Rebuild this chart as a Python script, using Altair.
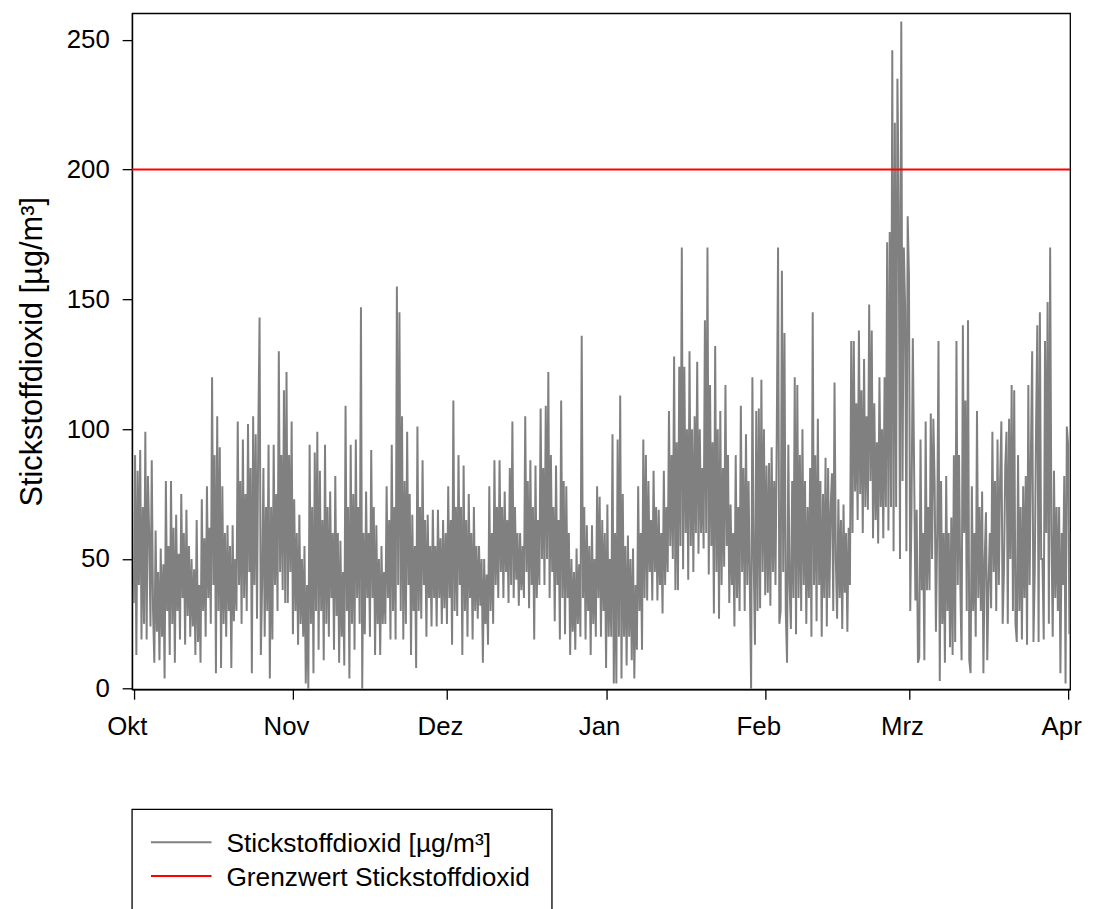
import altair as alt
import pandas as pd

# ---------------- data (4 values per day, 6-hourly) ----------------
START = "2018-10-01 00:00"
STEP = "6h"
MONATE = ["Jan", "Feb", "Mrz", "Apr", "Mai", "Jun", "Jul", "Aug", "Sep", "Okt", "Nov", "Dez"]
TICK_MONTHS = [(2018, 10), (2018, 11), (2018, 12), (2019, 1), (2019, 2), (2019, 3), (2019, 4)]
Y_TICKS = [0, 50, 100, 150, 200, 250]
GRENZWERT = [200]
LEGEND_LABELS = ["Stickstoffdioxid [µg/m³]", "Grenzwert Stickstoffdioxid"]

okt = [
    33, 90, 13, 84, 40, 92, 19, 70, 25, 99, 19, 82, 60, 24, 88, 30, 10, 61, 22, 45,
    11, 54, 20, 48, 4, 80, 30, 55, 13, 80, 25, 62, 10, 67, 30, 52, 19, 75, 35, 60,
    17, 69, 28, 55, 20, 50, 24, 46, 13, 65, 18, 40, 10, 73, 30, 58, 20, 78, 35, 62,
    25, 120, 40, 90, 6, 105, 30, 93, 8, 78, 25, 60, 20, 63, 30, 55, 8, 63, 26, 50,
    30, 103, 40, 80, 25, 96, 35, 75, 30, 102, 45, 85, 6, 105, 40, 98, 27, 98, 143, 13,
    40, 85, 20, 70, 30, 94, 4, 70, 19, 94, 40, 75, 30, 130, 45, 90, 38, 115, 33, 122,
    33, 90, 45, 103,
]
nov = [
    21, 73, 30, 60, 17, 67, 25, 50, 20, 55, 2, 40, 0, 94, 25, 70, 6, 91, 30, 99,
    15, 84, 30, 65, 11, 94, 25, 70, 20, 76, 35, 60, 15, 82, 28, 60, 10, 57, 20, 45,
    9, 109, 30, 70, 4, 94, 25, 75, 15, 96, 35, 70, 25, 147, 0, 60, 21, 76, 35, 60,
    20, 92, 35, 70, 13, 63, 25, 50, 13, 55, 25, 45, 25, 78, 35, 65, 19, 94, 30, 70,
    19, 155, 40, 145, 30, 105, 19, 80, 25, 99, 40, 75, 13, 67, 30, 55, 8, 101, 30, 70,
    27, 88, 40, 65, 20, 67, 35, 55, 24, 69, 35, 55, 24, 69, 35, 58, 25, 65, 31, 60,
]
dez = [
    25, 78, 35, 65, 17, 111, 30, 70, 28, 90, 40, 70, 13, 86, 30, 65, 20, 75, 35, 60,
    19, 70, 30, 55, 27, 55, 32, 50, 10, 50, 25, 44, 17, 78, 30, 60, 25, 88, 40, 70,
    35, 88, 45, 70, 35, 76, 45, 65, 33, 85, 40, 103, 35, 70, 42, 60, 32, 60, 38, 55,
    35, 105, 45, 80, 31, 88, 40, 70, 19, 86, 35, 65, 40, 108, 50, 85, 40, 109, 50, 122,
    35, 90, 45, 70, 26, 86, 40, 65, 19, 111, 35, 80, 21, 78, 35, 60, 13, 50, 22, 45,
    15, 54, 25, 48, 20, 136, 35, 70, 19, 63, 30, 55, 13, 63, 25, 50, 20, 78, 35, 74,
    20, 65, 30, 60,
]
jan = [
    8, 71, 20, 50, 20, 98, 2, 60, 2, 96, 20, 113, 4, 75, 20, 55, 9, 59, 20, 50,
    11, 54, 4, 40, 15, 78, 30, 60, 15, 96, 35, 90, 34, 80, 45, 65, 34, 84, 45, 70,
    34, 69, 40, 60, 29, 84, 40, 70, 45, 107, 55, 90, 50, 128, 38, 95, 38, 124, 55, 170,
    46, 124, 60, 100, 42, 130, 55, 100, 45, 105, 60, 126, 52, 100, 60, 85, 54, 142, 60, 170,
    44, 117, 55, 95, 29, 132, 45, 100, 27, 107, 40, 85, 47, 117, 55, 90, 33, 71, 40, 60,
    24, 90, 35, 70, 30, 109, 45, 85, 30, 98, 40, 80, 40, 0, 120, 50, 17, 107, 30, 108,
    31, 119, 45, 100,
]
feb = [
    36, 86, 37, 87, 32, 93, 45, 80, 40, 99, 170, 25, 30, 161, 45, 137, 30, 10, 94, 40,
    23, 80, 35, 120, 21, 117, 35, 90, 30, 100, 40, 80, 25, 70, 35, 85, 20, 145, 40, 90,
    26, 104, 40, 80, 20, 75, 35, 89, 24, 85, 35, 70, 83, 30, 118, 50, 27, 73, 35, 65,
    23, 71, 37, 60, 22, 62, 40, 134, 60, 134, 76, 110, 65, 138, 75, 115, 60, 127, 70, 105,
    69, 148, 80, 138, 58, 110, 65, 95, 56, 120, 70, 100, 58, 120, 70, 172, 61, 176, 70, 246,
    53, 218, 70, 235, 187, 50, 257, 80, 170, 147, 53, 182,
]
mrz = [
    159, 30, 70, 135, 85, 34, 69, 10, 12, 96, 38, 60, 11, 103, 38, 70, 38, 106, 50, 104,
    79, 22, 60, 134, 3, 80, 25, 60, 10, 82, 30, 60, 16, 66, 13, 90, 18, 134, 40, 90,
    40, 11, 140, 60, 111, 30, 142, 11, 6, 78, 30, 60, 20, 107, 35, 70, 30, 76, 6, 50,
    68, 11, 40, 60, 31, 99, 45, 80, 30, 96, 40, 80, 103, 25, 45, 85, 99, 25, 104, 50,
    117, 30, 115, 25, 18, 90, 30, 70, 19, 78, 35, 82, 17, 117, 40, 90, 130, 18, 45, 100,
    140, 18, 145, 50, 50, 19, 134, 60, 149, 25, 170, 60, 20, 84, 35, 70, 30, 70, 6, 60,
    40, 82, 2, 101,
]
apr = [94, 21, 60]

werte = okt + nov + dez + jan + feb + mrz + apr
zeiten = pd.date_range(START, periods=len(werte), freq=STEP).strftime("%Y-%m-%dT%H:%M:%S")
df = pd.DataFrame({"zeit": list(zeiten), "wert": werte})

# ---------------- chart ----------------
FONT = "Liberation Sans"
W, H = 945, 681

x_scale = alt.Scale(
    domain=[alt.DateTime(year=2018, month=9, date=30, hours=16),
            alt.DateTime(year=2019, month=4, date=1, hours=9, minutes=20)],
    nice=False,
)
y_scale = alt.Scale(domain=[-0.2, 260.2], nice=False, zero=False)

month_expr = "[" + ",".join("'%s'" % m for m in MONATE) + "][month(datum.value)]"

x_axis = alt.Axis(
    values=[alt.DateTime(year=y, month=m, date=1) for (y, m) in TICK_MONTHS],
    labelExpr=month_expr, title=None, labelFlush=False, labelOverlap=False,
    labelOffset=-7, labelPadding=35.7, labelBaseline="alphabetic", tickSize=10,
    labelFontSize=26, grid=False,
)
y_axis = alt.Axis(
    values=Y_TICKS, title=LEGEND_LABELS[0], titleFontSize=31, titleFontWeight="normal",
    titleAngle=270, titleX=-91, titleY=340.5, titleAlign="center", titleBaseline="alphabetic",
    labelPadding=13, tickSize=10, labelFontSize=26, grid=False,
)

line = alt.Chart(df).mark_line(color="#808080", strokeWidth=2, clip=True).encode(
    x=alt.X("zeit:T", scale=x_scale, axis=x_axis),
    y=alt.Y("wert:Q", scale=y_scale, axis=y_axis),
)
rule = alt.Chart(pd.DataFrame({"g": GRENZWERT})).mark_rule(color="#FF0000", strokeWidth=2).encode(
    y=alt.Y("g:Q", scale=y_scale, axis=y_axis),
)

one = pd.DataFrame({"t": [LEGEND_LABELS[0]]})
two = pd.DataFrame({"t": [LEGEND_LABELS[1]]})

box = alt.Chart(one).mark_rect(fill="white", fillOpacity=0, stroke="black", strokeWidth=1.3).encode(
    x=alt.value(0), x2=alt.value(423), y=alt.value(802), y2=alt.value(960)
)
leg_line1 = alt.Chart(one).mark_rule(color="#808080", strokeWidth=2).encode(
    x=alt.value(19), x2=alt.value(80), y=alt.value(835)
)
leg_line2 = alt.Chart(two).mark_rule(color="#FF0000", strokeWidth=2).encode(
    x=alt.value(19), x2=alt.value(80), y=alt.value(869)
)
leg_txt1 = alt.Chart(one).mark_text(align="left", baseline="alphabetic", fontSize=26.5,
                                    font=FONT, color="black").encode(
    x=alt.value(95), y=alt.value(845), text="t:N"
)
leg_txt2 = alt.Chart(two).mark_text(align="left", baseline="alphabetic", fontSize=26.5,
                                    font=FONT, color="black").encode(
    x=alt.value(95), y=alt.value(879), text="t:N"
)

chart = alt.layer(line, rule, box, leg_line1, leg_line2, leg_txt1, leg_txt2).properties(
    width=W, height=H,
    padding={"left": 125, "top": 2, "right": 15, "bottom": 218},
    autosize=alt.AutoSizeParams(type="none"),
    background="white",
).configure_axis(
    labelFont=FONT, titleFont=FONT, labelColor="black", titleColor="black",
    domainColor="black", tickColor="black", domainWidth=1.3, tickWidth=1.3,
).configure_view(stroke="black", strokeWidth=1.3)

chart.save("out.html", embed_options={"renderer": "svg", "actions": False})
